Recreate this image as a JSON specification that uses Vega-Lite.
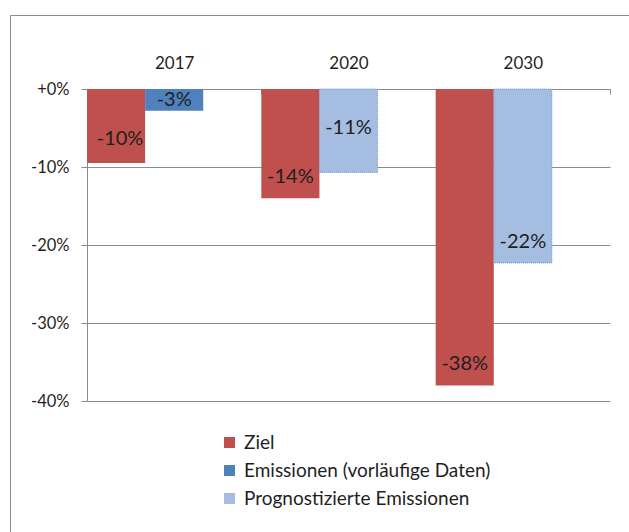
{
  "$schema": "https://vega.github.io/schema/vega-lite/v6.json",
  "width": 620,
  "height": 518,
  "autosize": {"type": "none"},
  "padding": {"left": 10, "top": 15, "right": -1, "bottom": -1},
  "background": "white",
  "config": {"view": {"stroke": "#8c8c8c", "strokeWidth": 1}, "font": "Lato"},
  "data": {
    "values": [
      {"year": "2017", "series": "Ziel", "kind": "Ziel", "value": -9.5, "label": "-10%"},
      {"year": "2017", "series": "Emissionen (vorläufige Daten)", "kind": "Emissionen", "value": -2.8, "label": "-3%"},
      {"year": "2020", "series": "Ziel", "kind": "Ziel", "value": -14.0, "label": "-14%"},
      {"year": "2020", "series": "Prognostizierte Emissionen", "kind": "Emissionen", "value": -10.7, "label": "-11%"},
      {"year": "2030", "series": "Ziel", "kind": "Ziel", "value": -38.0, "label": "-38%"},
      {"year": "2030", "series": "Prognostizierte Emissionen", "kind": "Emissionen", "value": -22.3, "label": "-22%"}
    ]
  },
  "encoding": {
    "x": {
      "field": "year", "type": "nominal",
      "scale": {"range": [77, 600], "paddingInner": 0, "paddingOuter": 0},
      "axis": {"orient": "top", "offset": -74, "title": null, "labelAngle": 0, "tickBand": "extent", "tickSize": -5, "labelPadding": 22, "labelFontSize": 17, "domainColor": "#8c8c8c", "tickColor": "#8c8c8c", "labelColor": "#1f1f1f", "grid": false}
    },
    "y": {
      "field": "value", "type": "quantitative",
      "scale": {"domain": [-40, 0], "range": [386, 74], "nice": false},
      "axis": {"values": [-40, -30, -20, -10, 0], "labelExpr": "datum.value === 0 ? '+0%' : '-' + abs(datum.value) + '%'", "offset": -77, "title": null, "domainColor": "#8c8c8c", "gridColor": "#8c8c8c", "tickColor": "#8c8c8c", "tickSize": 6, "labelPadding": 12, "labelFontSize": 16.5, "labelColor": "#1f1f1f", "grid": true}
    },
    "xOffset": {"field": "kind", "type": "nominal", "scale": {"domain": ["Ziel", "Emissionen", "leer"], "paddingInner": 0, "paddingOuter": 0}}
  },
  "layer": [
    {
      "mark": {"type": "bar", "strokeDash": [1, 1], "strokeWidth": 1},
      "encoding": {
        "color": {
          "field": "series", "type": "nominal",
          "scale": {"domain": ["Ziel", "Emissionen (vorläufige Daten)", "Prognostizierte Emissionen"], "range": ["#C0504D", "#4F81BD", "#A4BDE0"]},
          "legend": {"orient": "none", "legendX": 210, "legendY": 418, "title": null, "symbolType": "square", "symbolSize": 121, "symbolStrokeWidth": 0, "labelFontSize": 19, "labelLimit": 0, "rowPadding": 8, "labelColor": "#1f1f1f", "labelOffset": 5}
        },
        "stroke": {"condition": {"test": "datum.series === 'Prognostizierte Emissionen'", "value": "#6f96cc"}, "value": "transparent"}
      }
    },
    {
      "transform": [{"filter": "indexof(['-14%','-22%','-38%'], datum.label) >= 0"}],
      "mark": {"type": "text", "dy": -21, "baseline": "middle", "fontSize": 20, "color": "#1f1f1f"},
      "encoding": {"text": {"field": "label"}}
    },
    {
      "transform": [{"filter": "datum.label === '-10%'"}],
      "mark": {"type": "text", "dy": -24, "dx": 4, "baseline": "middle", "fontSize": 20, "color": "#1f1f1f"},
      "encoding": {"text": {"field": "label"}}
    },
    {
      "transform": [{"filter": "datum.label === '-3%'"}],
      "mark": {"type": "text", "dy": -11, "baseline": "middle", "fontSize": 20, "color": "#1f1f1f"},
      "encoding": {"text": {"field": "label"}}
    },
    {
      "transform": [{"filter": "datum.label === '-11%'"}],
      "mark": {"type": "text", "dy": -44, "baseline": "middle", "fontSize": 20, "color": "#1f1f1f"},
      "encoding": {"text": {"field": "label"}}
    }
  ]
}
